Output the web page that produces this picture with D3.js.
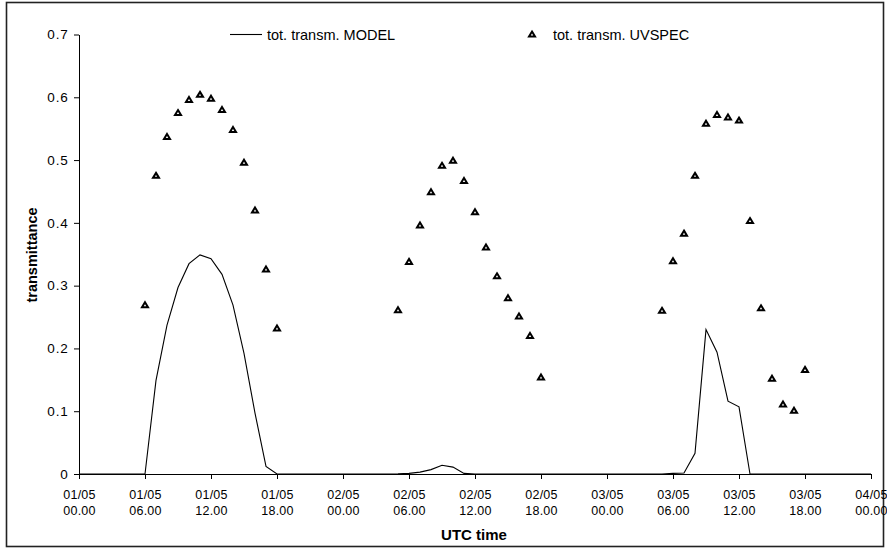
<!DOCTYPE html>
<html>
<head>
<meta charset="utf-8">
<script src="https://cdn.jsdelivr.net/npm/d3@7"></script>
<style>
  html, body { margin: 0; padding: 0; background: #fff; }
  svg { display: block; font-family: "Liberation Sans", Arial, sans-serif; }
</style>
</head>
<body>
<svg id="chart" width="887" height="550"></svg>
<script>
// ---- data ----
const xTickHours = [0, 6, 12, 18, 24, 30, 36, 42, 48, 54, 60, 66, 72];
const xTickDates = ["01/05", "01/05", "01/05", "01/05", "02/05", "02/05", "02/05", "02/05", "03/05", "03/05", "03/05", "03/05", "04/05"];
const xTickTimes = ["00.00", "06.00", "12.00", "18.00", "00.00", "06.00", "12.00", "18.00", "00.00", "06.00", "12.00", "18.00", "00.00"];
const yTicks = [0, 0.1, 0.2, 0.3, 0.4, 0.5, 0.6, 0.7];

const modelHours = [0, 6, 7, 8, 9, 10, 11, 12, 13, 14, 15, 16, 17, 18,
                    28, 29, 30, 31, 32, 33, 34, 35, 36,
                    53, 54, 55, 56, 57, 58, 59, 60, 61, 72];
const modelValues = [0, 0, 0.149, 0.237, 0.297, 0.335, 0.349, 0.343, 0.318, 0.269, 0.192, 0.097, 0.012, 0,
                     0, 0.0003, 0.001, 0.003, 0.007, 0.014, 0.011, 0.001, 0,
                     0, 0.001, 0.0015, 0.033, 0.230, 0.194, 0.116, 0.107, 0, 0];

const uvHours = [6, 7, 8, 9, 10, 11, 12, 13, 14, 15, 16, 17, 18,
                 29, 30, 31, 32, 33, 34, 35, 36, 37, 38, 39, 40, 41, 42,
                 53, 54, 55, 56, 57, 58, 59, 60, 61, 62, 63, 64, 65, 66];
const uvValues = [0.269, 0.475, 0.537, 0.575, 0.596, 0.604, 0.598, 0.580, 0.548, 0.496, 0.420, 0.326, 0.232,
                  0.261, 0.338, 0.396, 0.449, 0.491, 0.499, 0.467, 0.417, 0.361, 0.315, 0.280, 0.251, 0.220, 0.154,
                  0.260, 0.339, 0.383, 0.475, 0.558, 0.572, 0.568, 0.563, 0.403, 0.264, 0.152, 0.111, 0.101, 0.166];

const seriesNames = ["tot. transm. MODEL", "tot. transm. UVSPEC"];
const xTitle = "UTC time";
const yTitle = "transmittance";

// ---- layout ----
const svg = d3.select("#chart");
const x = d3.scaleLinear().domain([0, 72]).range([79, 871]);
const y = d3.scaleLinear().domain([0, 0.7]).range([474, 34.5]);

// outer frame
svg.append("rect")
  .attr("x", 6.5).attr("y", 2.5).attr("width", 877).attr("height", 544)
  .attr("fill", "none").attr("stroke", "#222").attr("stroke-width", 1.6);

// y axis
const yAxis = d3.axisLeft(y).tickValues(yTicks).tickSize(5).tickPadding(5.5).tickSizeOuter(0)
  .tickFormat(d => d === 0 ? "0" : d3.format(".1f")(d));
const gy = svg.append("g").attr("transform", `translate(${x(0)},0)`).call(yAxis);
gy.selectAll("text").attr("font-size", 13.5).attr("letter-spacing", 0.8)
  .attr("font-family", "Liberation Sans, Arial, sans-serif").attr("fill", "#000");
gy.selectAll("line,path").attr("stroke", "#000");

// x axis
const xAxis = d3.axisBottom(x).tickValues(xTickHours).tickSize(5).tickSizeOuter(0).tickFormat("");
const gx = svg.append("g").attr("transform", `translate(0,${y(0)})`).call(xAxis);
gx.selectAll("line,path").attr("stroke", "#000");
gx.selectAll(".tick").each(function(d, i) {
  const t = d3.select(this).select("text");
  t.attr("y", 0).attr("dy", null).attr("font-size", 12.5).attr("letter-spacing", 0.2)
   .attr("font-family", "Liberation Sans, Arial, sans-serif").attr("fill", "#000");
  t.append("tspan").attr("x", 0).attr("y", 25).text(xTickDates[i]);
  t.append("tspan").attr("x", 0).attr("y", 41).text(xTickTimes[i]);
});

// axis titles
svg.append("text").attr("x", 474).attr("y", 540).attr("text-anchor", "middle")
  .attr("font-size", 15).attr("font-weight", "bold").text(xTitle);
svg.append("text").attr("transform", "translate(37,255) rotate(-90)").attr("text-anchor", "middle")
  .attr("font-size", 14.5).attr("font-weight", "bold").text(yTitle);

// model line
const modelData = modelHours.map((h, i) => [h, modelValues[i]]);
svg.append("path").datum(modelData)
  .attr("fill", "none").attr("stroke", "#000").attr("stroke-width", 1.1)
  .attr("d", d3.line().x(d => x(d[0])).y(d => y(d[1])));

// UVSPEC markers
const tri = "M0,-2.9L3,2.1L-3,2.1Z";
const uvData = uvHours.map((h, i) => [h, uvValues[i]]);
svg.append("g").selectAll("path").data(uvData).join("path")
  .attr("d", tri)
  .attr("transform", d => `translate(${x(d[0])},${y(d[1])})`)
  .attr("fill", "#fff").attr("stroke", "#000").attr("stroke-width", 2);

// legend
svg.append("line").attr("x1", 230).attr("x2", 262).attr("y1", 34.5).attr("y2", 34.5)
  .attr("stroke", "#000").attr("stroke-width", 1.1);
svg.append("text").attr("x", 267).attr("y", 39.5).attr("font-size", 14.5).text(seriesNames[0]);
svg.append("path").attr("d", tri).attr("transform", "translate(532,34.5)")
  .attr("fill", "#fff").attr("stroke", "#000").attr("stroke-width", 2);
svg.append("text").attr("x", 553).attr("y", 39.5).attr("font-size", 14.5).text(seriesNames[1]);
</script>
</body>
</html>
